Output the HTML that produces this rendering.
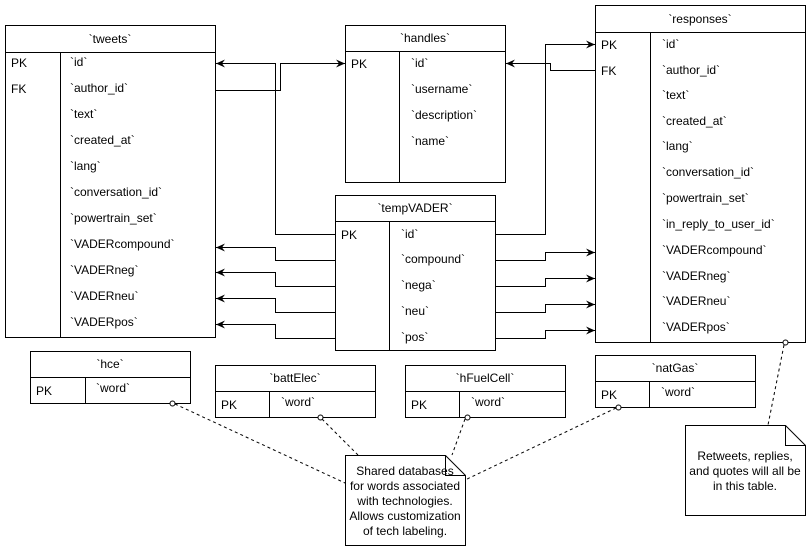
<!DOCTYPE html>
<html><head><meta charset="utf-8"><style>
html,body{margin:0;padding:0;background:#fff;}
svg{display:block;font-family:"Liberation Sans",Arial,sans-serif;font-size:12px;}
text{fill:#000;}
</style></head><body>
<svg width="811" height="551" viewBox="0 0 811 551" xmlns="http://www.w3.org/2000/svg">
<defs>
<marker id="a" markerWidth="10" markerHeight="10" refX="9" refY="5" orient="auto" markerUnits="userSpaceOnUse">
<path d="M0,1 L9,5 L0,9 L3,5 Z" fill="#000"/>
</marker>
</defs>
<g fill="#fff" stroke="#000" stroke-width="1">
<!-- tweets -->
<rect x="5.5" y="25.5" width="210" height="312"/>
<line x1="5.5" y1="52.5" x2="215.5" y2="52.5"/>
<line x1="60.5" y1="52.5" x2="60.5" y2="337.5"/>
<!-- handles -->
<rect x="345.5" y="25.5" width="160" height="157"/>
<line x1="345.5" y1="51.5" x2="505.5" y2="51.5"/>
<line x1="399.5" y1="51.5" x2="399.5" y2="182.5"/>
<!-- tempVADER -->
<rect x="335.5" y="195.5" width="160" height="155"/>
<line x1="335.5" y1="221.5" x2="495.5" y2="221.5"/>
<line x1="389.5" y1="221.5" x2="389.5" y2="350.5"/>
<!-- responses -->
<rect x="595.5" y="5.5" width="210" height="337"/>
<line x1="595.5" y1="32.5" x2="805.5" y2="32.5"/>
<line x1="650.5" y1="32.5" x2="650.5" y2="342.5"/>
<!-- hce -->
<rect x="30.5" y="351.5" width="160" height="52"/>
<line x1="30.5" y1="377.5" x2="190.5" y2="377.5"/>
<line x1="85.5" y1="377.5" x2="85.5" y2="403.5"/>
<!-- battElec -->
<rect x="215.5" y="365.5" width="160" height="52"/>
<line x1="215.5" y1="391.5" x2="375.5" y2="391.5"/>
<line x1="269.5" y1="391.5" x2="269.5" y2="417.5"/>
<!-- hFuelCell -->
<rect x="405.5" y="365.5" width="160" height="52"/>
<line x1="405.5" y1="391.5" x2="565.5" y2="391.5"/>
<line x1="459.5" y1="391.5" x2="459.5" y2="417.5"/>
<!-- natGas -->
<rect x="595.5" y="355.5" width="160" height="52"/>
<line x1="595.5" y1="381.5" x2="755.5" y2="381.5"/>
<line x1="649.5" y1="381.5" x2="649.5" y2="407.5"/>
</g>

<!-- dashed note links -->
<g stroke="#000" stroke-width="1" stroke-dasharray="3,3" fill="none">
<line x1="175" y1="404" x2="345" y2="483"/>
<line x1="322" y1="419" x2="358" y2="455"/>
<line x1="465" y1="419" x2="452" y2="455"/>
<line x1="616" y1="408" x2="465" y2="480"/>
<line x1="784" y1="345" x2="768" y2="425"/>
</g>
<g fill="#fff" stroke="#000">
<circle cx="172.5" cy="403.5" r="2.5"/>
<circle cx="320.5" cy="417.5" r="2.5"/>
<circle cx="467.5" cy="417.5" r="2.5"/>
<circle cx="618.5" cy="407.5" r="2.5"/>
<circle cx="785.5" cy="342.5" r="2.5"/>
</g>

<!-- notes -->
<g fill="#fff" stroke="#000">
<path d="M345.5,455.5 H445.5 L465.5,475.5 V545.5 H345.5 Z"/>
<path d="M445.5,455.5 V475.5 H465.5" fill="none"/>
<path d="M685.5,425.5 H785.5 L805.5,445.5 V515.5 H685.5 Z"/>
<path d="M785.5,425.5 V445.5 H805.5" fill="none"/>
</g>

<!-- connectors -->
<g stroke="#000" stroke-width="1" fill="none">
<polyline points="335,234.5 275.5,234.5 275.5,63.5 216,63.5" marker-end="url(#a)"/>
<polyline points="216,90.5 280.5,90.5 280.5,63.5 345,63.5" marker-end="url(#a)"/>
<polyline points="595,70.5 550.5,70.5 550.5,63.5 506,63.5" marker-end="url(#a)"/>
<polyline points="496,234.5 545.5,234.5 545.5,44.5 595,44.5" marker-end="url(#a)"/>
<polyline points="496,260.5 545.5,260.5 545.5,252.5 595,252.5" marker-end="url(#a)"/>
<polyline points="496,286.5 545.5,286.5 545.5,278.5 595,278.5" marker-end="url(#a)"/>
<polyline points="496,312.5 545.5,312.5 545.5,304.5 595,304.5" marker-end="url(#a)"/>
<polyline points="496,338.5 545.5,338.5 545.5,330.5 595,330.5" marker-end="url(#a)"/>
<polyline points="335,260.5 275.5,260.5 275.5,247.5 216,247.5" marker-end="url(#a)"/>
<polyline points="335,286.5 275.5,286.5 275.5,272.5 216,272.5" marker-end="url(#a)"/>
<polyline points="335,312.5 275.5,312.5 275.5,298.5 216,298.5" marker-end="url(#a)"/>
<polyline points="335,338.5 275.5,338.5 275.5,324.5 216,324.5" marker-end="url(#a)"/>
</g>

<!-- text -->
<g text-anchor="middle">
<text x="110" y="43">`tweets`</text>
<text x="425" y="42">`handles`</text>
<text x="415" y="212">`tempVADER`</text>
<text x="700" y="23">`responses`</text>
<text x="110" y="368">`hce`</text>
<text x="295" y="382">`battElec`</text>
<text x="485" y="382">`hFuelCell`</text>
<text x="675" y="372">`natGas`</text>
<text x="405" y="475">Shared databases</text>
<text x="405" y="490">for words associated</text>
<text x="405" y="505">with technologies.</text>
<text x="405" y="520">Allows customization</text>
<text x="405" y="535">of tech labeling.</text>
<text x="745" y="460">Retweets, replies,</text>
<text x="745" y="475">and quotes will all be</text>
<text x="745" y="490">in this table.</text>
</g>
<g>
<text x="11" y="67">PK</text><text x="11" y="93">FK</text>
<text x="70" y="66">`id`</text>
<text x="70" y="92">`author_id`</text>
<text x="70" y="118">`text`</text>
<text x="70" y="144">`created_at`</text>
<text x="70" y="170">`lang`</text>
<text x="70" y="196">`conversation_id`</text>
<text x="70" y="222">`powertrain_set`</text>
<text x="70" y="248">`VADERcompound`</text>
<text x="70" y="274">`VADERneg`</text>
<text x="70" y="300">`VADERneu`</text>
<text x="70" y="326">`VADERpos`</text>

<text x="351" y="68">PK</text>
<text x="411" y="67">`id`</text>
<text x="411" y="93">`username`</text>
<text x="411" y="119">`description`</text>
<text x="411" y="145">`name`</text>

<text x="341" y="239">PK</text>
<text x="401" y="238">`id`</text>
<text x="401" y="263">`compound`</text>
<text x="401" y="289">`nega`</text>
<text x="401" y="315">`neu`</text>
<text x="401" y="341">`pos`</text>

<text x="601" y="49">PK</text><text x="601" y="75">FK</text>
<text x="662" y="48">`id`</text>
<text x="662" y="74">`author_id`</text>
<text x="662" y="99">`text`</text>
<text x="662" y="125">`created_at`</text>
<text x="662" y="150">`lang`</text>
<text x="662" y="176">`conversation_id`</text>
<text x="662" y="202">`powertrain_set`</text>
<text x="662" y="228">`in_reply_to_user_id`</text>
<text x="662" y="254">`VADERcompound`</text>
<text x="662" y="280">`VADERneg`</text>
<text x="662" y="305">`VADERneu`</text>
<text x="662" y="331">`VADERpos`</text>

<text x="36" y="395">PK</text><text x="96" y="392">`word`</text>
<text x="221" y="409">PK</text><text x="281" y="406">`word`</text>
<text x="411" y="409">PK</text><text x="471" y="406">`word`</text>
<text x="601" y="399">PK</text><text x="661" y="396">`word`</text>
</g>
</svg>
</body></html>
